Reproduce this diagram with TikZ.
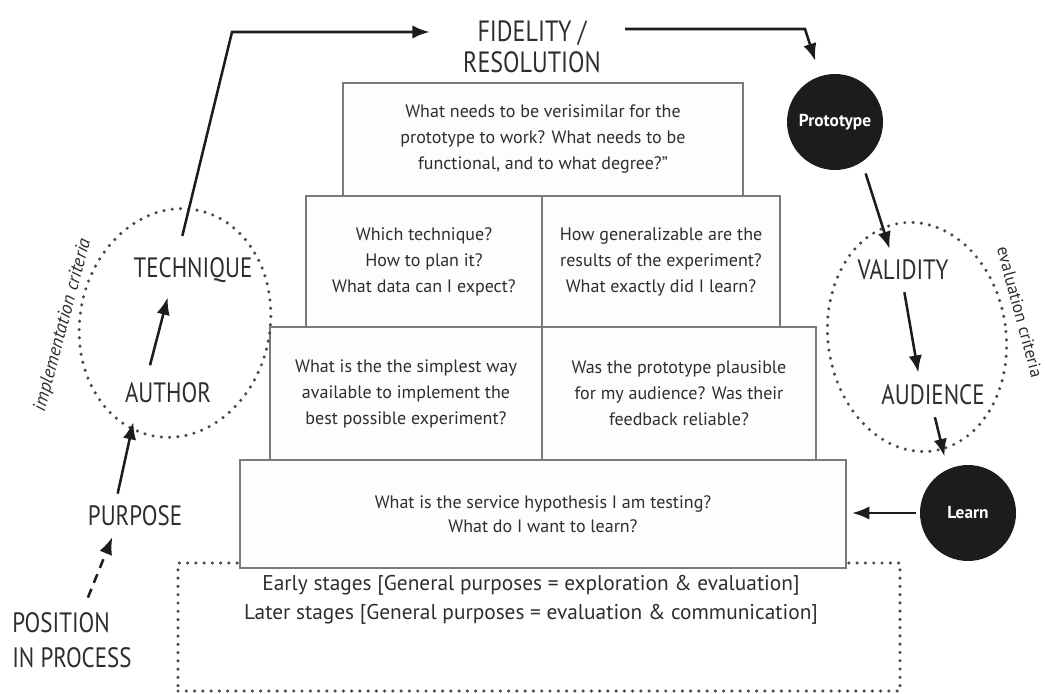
\documentclass[tikz,border=0pt]{standalone}
\usepackage{fontspec}
\setmainfont{PT Sans}
\newfontfamily\capsfont[FakeStretch=0.82]{PT Sans}
\usetikzlibrary{arrows.meta,positioning,calc}

\definecolor{txt}{HTML}{2E2E2E}
\definecolor{boxline}{HTML}{7A7A7A}
\definecolor{boxfill}{HTML}{FDFDFB}
\definecolor{ink}{HTML}{1C1C1C}

\begin{document}
\begin{tikzpicture}[
			x=0.75pt,y=0.75pt,
			>={Latex[length=13pt,width=10pt]},
			term/.style={
				text=txt,
				font=\capsfont\fontsize{21}{26}\selectfont,
				inner sep=3pt,
				align=left
			},
			question/.style={
				draw=boxline,
				line width=1.1pt,
				fill=boxfill,
				text=txt,
				align=center,
				font=\fontsize{13.5}{19.5}\selectfont
			},
			dotline/.style={
				draw=ink!80,
				line width=2.6pt,
				line cap=round,
				dash pattern=on 0pt off 6.2pt
			},
			milestone/.style={
				circle,
				fill=ink,
				text=white,
				font=\bfseries\fontsize{13}{15}\selectfont,
				minimum size=72pt,
				inner sep=0pt
			},
			arr/.style={->,draw=ink,line width=1.9pt},
			note/.style={text=txt,font=\fontsize{13}{16}\selectfont,inner sep=1pt}
			]
			
			\useasboundingbox (0,0) rectangle (1045,693);
			
			% Stages
			\node[dotline,minimum width=541.5pt,minimum height=96pt] (stages) at (539,66) {};
			\node[text=txt,align=center,font=\fontsize{16}{21.5}\selectfont] (stagetext) at (531,93)
			{Early stages [General purposes = exploration \& evaluation]\\Later stages [General purposes = evaluation \& communication]};
			
			% Questions
			\node[question,minimum width=454.5pt,minimum height=81pt,font=\fontsize{13.5}{18}\selectfont] (hypo) at (543,179)
			{What is the service hypothesis I am testing?\\What do I want to learn?};
			\node[question,minimum width=204pt,minimum height=99.75pt] (simple) at (406,299.5)
			{What is the the simplest way\\available to implement the\\best possible experiment?};
			\node[question,minimum width=205.5pt,minimum height=99.75pt] (plaus) at (679,299.5)
			{Was the prototype plausible\\for my audience? Was their\\feedback reliable?};
			\node[question,minimum width=177pt,minimum height=98.25pt] (which) at (424,431.5)
			{Which technique?\\How to plan it?\\What data can I expect?};
			\node[question,minimum width=178.5pt,minimum height=98.25pt] (general) at (661,431.5)
			{How generalizable are the\\results of the experiment?\\What exactly did I learn?};
			\node[question,minimum width=300pt,minimum height=84.75pt] (verisim) at (543,553.5)
			{What needs to be verisimilar for the\\prototype to work? What needs to be\\functional, and to what degree?''};
			
			% Implementation side
			\node[term,align=center,font=\capsfont\fontsize{22}{23}\selectfont] (fid) at (532,646) {FIDELITY /\\RESOLUTION};
			\node[term] (technique) at (193,423) {TECHNIQUE};
			\node[term] (author) at (168,300) {AUTHOR};
			\node[term] (purpose) at (135,177) {PURPOSE};
			\node[term,anchor=west] (pos) at (8,53) {POSITION\\IN PROCESS};
			\draw[dotline,rotate around={-11:(175,370)}] (175,370) ellipse [x radius=95,y radius=115];
			\node[note,rotate=75,font=\itshape\fontsize{14}{16}\selectfont] (implcrit) at (63,368) {implementation criteria};
			
			% Evaluation side
			\node[milestone] (proto) at (835,571) {Prototype};
			\node[term] (validity) at (903,423) {VALIDITY};
			\node[term] (audience) at (933,298) {AUDIENCE};
			\node[milestone] (learn) at (968,180) {Learn};
			\draw[dotline,rotate around={8:(917,356)}] (917,356) ellipse [x radius=89,y radius=115];
			\node[note,rotate=-75] (evalcrit) at (1020,381) {evaluation criteria};
			
			% Bends
			\coordinate (bendA) at (232,661);
			\coordinate (bendB) at (805,664);
			
			% Arrows
			\draw[arr,dash pattern=on 7pt off 5pt] ([xshift=12pt,yshift=8pt]pos.north) -- ([xshift=-17pt,yshift=-5pt]purpose.south);
			\draw[arr] ([xshift=-13pt,yshift=6pt]purpose.north) -- ([xshift=-26pt,yshift=-11pt]author.south);
			\draw[arr] ([xshift=-13.5pt,yshift=10pt]author.north) -- ([xshift=-19pt,yshift=-8pt]technique.south);
			\draw[arr,shorten >=22pt] ([xshift=-8pt,yshift=13pt]technique.north) -- (bendA) -- (bendA -| fid.west);
			\draw[arr,shorten >=12pt] ([xshift=15pt]fid.east |- bendB) -- (bendB) -- (proto);
			\draw[arr,shorten <=9pt] (proto.-56) -- ([xshift=-10pt,yshift=5pt]validity.north);
			\draw[arr,shorten <=6pt,shorten >=6pt] (validity.south) -- ([xshift=-10pt]audience.north);
			\draw[arr,shorten <=6pt,shorten >=10pt] (audience.south) -- (learn.115);
			\draw[arr,shorten <=3pt,shorten >=4pt] (learn.west) -- (learn.west -| hypo.east);
			
		\end{tikzpicture}
\end{document}
